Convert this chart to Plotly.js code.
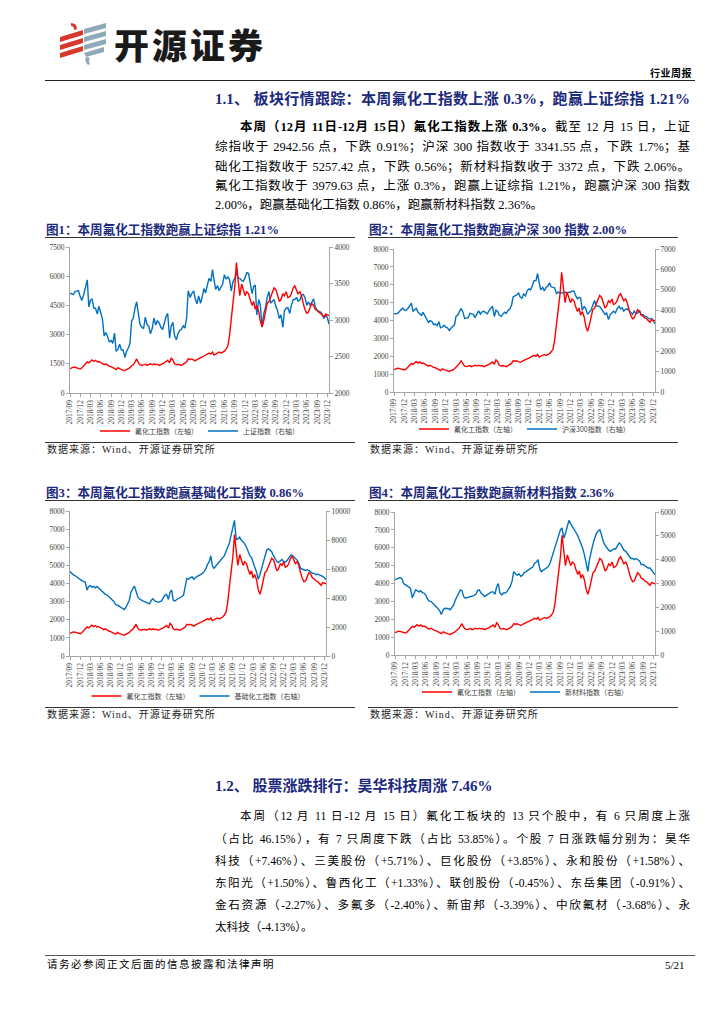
<!DOCTYPE html>
<html><head><meta charset="utf-8">
<script src="https://cdn.plot.ly/plotly-3.0.1.min.js"></script>
<style>
body{margin:0;background:#fff;}
#page{position:relative;width:724px;height:1024px;overflow:hidden;background:#fff;font-family:"Liberation Serif","Noto Sans CJK SC",serif;color:#000;}
.abs{position:absolute;white-space:nowrap;}
.hl{position:absolute;height:0;border-top:1px solid #333;}
.jl{position:absolute;text-align:justify;text-align-last:justify;font-size:12.5px;height:19px;line-height:19px;}
.jl2{position:absolute;text-align:justify;text-align-last:justify;font-size:11.6px;height:20px;line-height:20px;}
.h1{position:absolute;left:215px;width:475px;font-size:15px;font-weight:bold;color:#1C2A7D;height:20px;line-height:20px;}
.ct{position:absolute;font-size:12.6px;font-weight:bold;color:#1C2A7D;height:16px;line-height:16px;white-space:nowrap;}
.src{position:absolute;font-size:10px;letter-spacing:1px;height:14px;line-height:14px;white-space:nowrap;color:#222;}
.chart{position:absolute;width:310px;height:200px;}
</style></head>
<body><div id="page">
<svg class="abs" style="left:56px;top:20px" width="56" height="46" viewBox="0 0 56 46">
 <g fill="#D73A2C">
  <path d="M15 3 q6 0 6 6 l-3 1 q0-4-3-4z"/>
  <polygon points="4,17 27,10 27,15 4,22"/>
  <polygon points="4,25 27,18 27,23 4,30"/>
  <polygon points="4,33 27,26 27,31 4,38"/>
 </g>
 <g fill="#8FA9B8">
  <polygon points="28,9 50,3 50,8 28,14"/>
  <polygon points="28,17 50,11 50,16 28,22"/>
  <polygon points="28,25 50,19 50,24 28,30"/>
  <polygon points="28,33 48,27 48,32 30,37"/>
  <path d="M30 37 q-2 4 2 8 l2-1 q-2-3 0-6z"/>
 </g>
</svg>
<div class="abs" style="left:114px;top:22px;font-family:'Noto Sans CJK SC';font-weight:900;font-size:35px;line-height:44px;letter-spacing:3px;color:#1a1a1a;">开源证券</div>
<div class="abs" style="left:650px;top:66px;font-family:'Noto Sans CJK SC';font-weight:bold;font-size:10px;line-height:14px;letter-spacing:0.5px;">行业周报</div>
<div class="hl" style="left:45px;top:80px;width:650px;border-top:1.5px solid #222;"></div>

<div class="h1" style="top:89px;text-align:justify;text-align-last:justify;">1.1、 板块行情跟踪：本周氟化工指数上涨 0.3%，跑赢上证综指 1.21%</div>
<div class="jl" style="left:240px;width:450px;top:118px;"><b>本周（12月 11日-12月 15日）氟化工指数上涨 0.3%。</b>截至 12 月 15 日，上证</div>
<div class="jl" style="left:215px;width:475px;top:138px;">综指收于 2942.56 点，下跌 0.91%；沪深 300 指数收于 3341.55 点，下跌 1.7%；基</div>
<div class="jl" style="left:215px;width:475px;top:158px;">础化工指数收于 5257.42 点，下跌 0.56%；新材料指数收于 3372 点，下跌 2.06%。</div>
<div class="jl" style="left:215px;width:475px;top:177px;">氟化工指数收于 3979.63 点，上涨 0.3%，跑赢上证综指 1.21%，跑赢沪深 300 指数</div>
<div class="jl" style="left:215px;width:475px;top:196px;text-align-last:left;">2.00%，跑赢基础化工指数 0.86%，跑赢新材料指数 2.36%。</div>

<div class="ct" style="left:46px;top:222px;">图1：本周氟化工指数跑赢上证综指 1.21%</div>
<div class="ct" style="left:369px;top:222px;">图2：本周氟化工指数跑赢沪深 300 指数 2.00%</div>
<div class="hl" style="left:45px;top:237px;width:310px;"></div>
<div class="hl" style="left:368px;top:237px;width:310px;"></div>
<div id="c1" class="chart" style="left:45px;top:240px;"></div>
<div id="c2" class="chart" style="left:368px;top:240px;"></div>
<div class="hl" style="left:45px;top:442px;width:310px;"></div>
<div class="hl" style="left:368px;top:442px;width:310px;"></div>
<div class="src" style="left:47px;top:443px;">数据来源：Wind、开源证券研究所</div>
<div class="src" style="left:370px;top:443px;">数据来源：Wind、开源证券研究所</div>

<div class="ct" style="left:46px;top:485px;">图3：本周氟化工指数跑赢基础化工指数 0.86%</div>
<div class="ct" style="left:369px;top:485px;">图4：本周氟化工指数跑赢新材料指数 2.36%</div>
<div class="hl" style="left:45px;top:500px;width:310px;"></div>
<div class="hl" style="left:368px;top:500px;width:310px;"></div>
<div id="c3" class="chart" style="left:45px;top:503px;"></div>
<div id="c4" class="chart" style="left:368px;top:503px;"></div>
<div class="hl" style="left:45px;top:707px;width:310px;"></div>
<div class="hl" style="left:368px;top:707px;width:310px;"></div>
<div class="src" style="left:47px;top:708px;">数据来源：Wind、开源证券研究所</div>
<div class="src" style="left:370px;top:708px;">数据来源：Wind、开源证券研究所</div>

<div class="h1" style="top:776px;width:auto;">1.2、 股票涨跌排行：昊华科技周涨 7.46%</div>
<div class="jl2" style="left:240px;width:450px;top:807px;">本周（12 月 11 日-12 月 15 日）氟化工板块的 13 只个股中，有 6 只周度上涨</div>
<div class="jl2" style="left:215px;width:475px;top:830px;">（占比 46.15%），有 7 只周度下跌（占比 53.85%）。个股 7 日涨跌幅分别为：昊华</div>
<div class="jl2" style="left:215px;width:475px;top:852px;">科技（+7.46%）、三美股份（+5.71%）、巨化股份（+3.85%）、永和股份（+1.58%）、</div>
<div class="jl2" style="left:215px;width:475px;top:874px;">东阳光（+1.50%）、鲁西化工（+1.33%）、联创股份（-0.45%）、东岳集团（-0.91%）、</div>
<div class="jl2" style="left:215px;width:475px;top:896px;">金石资源（-2.27%）、多氟多（-2.40%）、新宙邦（-3.39%）、中欣氟材（-3.68%）、永</div>
<div class="jl2" style="left:215px;width:475px;top:918px;text-align-last:left;">太科技（-4.13%）。</div>

<div class="hl" style="left:45px;top:955px;width:650px;border-top:1.5px solid #555;"></div>
<div class="abs" style="left:47px;top:958px;font-size:10.5px;line-height:14px;letter-spacing:1.5px;">请务必参阅正文后面的信息披露和法律声明</div>
<div class="abs" style="left:665px;top:958px;font-size:11px;line-height:14px;">5/21</div>
</div>
<script>
const dates = [
"2017-09-01","2017-09-15","2017-10-01","2017-10-15","2017-11-01","2017-11-15","2017-12-01","2017-12-15",
"2018-01-01","2018-01-15","2018-02-01","2018-02-15","2018-03-01","2018-03-15","2018-04-01","2018-04-15","2018-05-01","2018-05-15","2018-06-01","2018-06-15","2018-07-01","2018-07-15","2018-08-01","2018-08-15","2018-09-01","2018-09-15","2018-10-01","2018-10-15","2018-11-01","2018-11-15","2018-12-01","2018-12-15",
"2019-01-01","2019-01-15","2019-02-01","2019-02-15","2019-03-01","2019-03-15","2019-04-01","2019-04-15","2019-05-01","2019-05-15","2019-06-01","2019-06-15","2019-07-01","2019-07-15","2019-08-01","2019-08-15","2019-09-01","2019-09-15","2019-10-01","2019-10-15","2019-11-01","2019-11-15","2019-12-01","2019-12-15",
"2020-01-01","2020-01-15","2020-02-01","2020-02-15","2020-03-01","2020-03-15","2020-04-01","2020-04-15","2020-05-01","2020-05-15","2020-06-01","2020-06-15","2020-07-01","2020-07-15","2020-08-01","2020-08-15","2020-09-01","2020-09-15","2020-10-01","2020-10-15","2020-11-01","2020-11-15","2020-12-01","2020-12-15",
"2021-01-01","2021-01-15","2021-02-01","2021-02-15","2021-03-01","2021-03-15","2021-04-01","2021-04-15","2021-05-01","2021-05-15","2021-06-01","2021-06-15","2021-07-01","2021-07-15","2021-08-01","2021-08-15","2021-09-01","2021-09-15","2021-10-01","2021-10-15","2021-11-01","2021-11-15","2021-12-01","2021-12-15",
"2022-01-01","2022-01-15","2022-02-01","2022-02-15","2022-03-01","2022-03-15","2022-04-01","2022-04-15","2022-05-01","2022-05-15","2022-06-01","2022-06-15","2022-07-01","2022-07-15","2022-08-01","2022-08-15","2022-09-01","2022-09-15","2022-10-01","2022-10-15","2022-11-01","2022-11-15","2022-12-01","2022-12-15",
"2023-01-01","2023-01-15","2023-02-01","2023-02-15","2023-03-01","2023-03-15","2023-04-01","2023-04-15","2023-05-01","2023-05-15","2023-06-01","2023-06-15","2023-07-01","2023-07-15","2023-08-01","2023-08-15","2023-09-01","2023-09-15","2023-10-01","2023-10-15","2023-11-01","2023-11-15","2023-12-01","2023-12-15"
];
// 氟化工指数（左轴）
const fluoro = [
1250,1300,1330,1320,1300,1280,1230,1280,
1380,1500,1600,1550,1650,1700,1620,1680,1600,1620,1560,1500,1450,1500,1420,1380,1350,1320,1250,1200,1300,1250,1200,1180,
1150,1200,1230,1300,1400,1450,1600,1750,1550,1450,1420,1450,1480,1420,1480,1500,1450,1500,1450,1480,1420,1450,1480,1550,
1620,1680,1550,1800,1700,1500,1450,1480,1450,1420,1480,1520,1600,1750,1720,1750,1700,1650,1720,1750,1800,1850,1900,1950,
1980,2050,2000,2100,1950,2000,2050,2100,2050,2100,2150,2250,2400,2900,3800,4700,5500,6700,5600,5000,5600,5300,5000,5200,
5100,4800,4500,4700,4300,4500,4200,3700,3400,3700,4200,4600,4700,4900,5100,5400,5300,5000,4700,4800,5100,5000,5200,4900,
4950,5100,5400,5500,5300,5100,5200,5000,4600,4300,4100,4150,4400,4600,4500,4300,4250,4150,4100,4000,3900,4050,4000,3980
];
// 上证指数（右轴）
const shIndex = [
3365,3353,3349,3390,3395,3402,3317,3266,
3349,3450,3550,3180,3270,3290,3160,3160,3080,3190,3075,3020,2780,2830,2770,2700,2720,2680,2820,2570,2600,2670,2590,2590,
2490,2570,2620,2680,2990,3020,3170,3250,3080,2940,2900,2880,3040,2940,2910,2810,2890,3030,2930,2990,2960,2900,2870,2970,
3050,3090,2750,2920,2970,2790,2730,2810,2860,2870,2920,2890,3030,3400,3310,3360,3400,3290,3220,3330,3230,3310,3430,3370,
3470,3570,3530,3690,3550,3420,3470,3400,3450,3490,3620,3560,3590,3560,3400,3520,3570,3660,3570,3570,3540,3530,3580,3650,
3640,3520,3360,3460,3480,3070,3280,3210,2900,3080,3180,3310,3390,3230,3260,3280,3180,3130,3020,3070,2900,3130,3160,3170,
3090,3200,3280,3280,3310,3260,3270,3340,3350,3310,3200,3250,3200,3240,3290,3180,3130,3120,3110,3080,3020,3070,3030,2942
];
// 沪深300指数（右轴）
const hs300 = [
3830,3830,3840,3920,4000,4110,4010,3990,
4090,4230,4350,3960,4020,4090,3900,3850,3750,3900,3700,3620,3400,3490,3450,3300,3330,3240,3440,3140,3180,3270,3170,3140,
3010,3120,3200,3290,3720,3750,3950,4090,3910,3600,3630,3630,3850,3810,3800,3640,3800,3970,3810,3920,3950,3900,3830,3970,
4100,4200,3690,4000,3940,3770,3700,3800,3910,3850,4000,4050,4250,4650,4700,4750,4850,4650,4590,4800,4700,4950,5050,5000,
5210,5450,5450,5800,5360,5000,5120,4950,5120,5180,5340,5150,5120,5100,4800,4900,4830,4860,4870,4880,4850,4890,4880,4950,
4940,4730,4560,4630,4600,4000,4200,4080,3800,3900,4020,4250,4480,4220,4200,4190,4060,3940,3800,3870,3550,3780,3850,3950,
3870,4070,4200,4070,4120,3960,4050,4060,3990,3910,3800,3960,3840,3860,4000,3780,3780,3710,3690,3610,3570,3600,3480,3342
];
// 基础化工指数（右轴）
const basicChem = [
5820,5700,5600,5550,5450,5350,5250,5200,
5150,5100,4550,4800,4850,4750,4800,4700,4800,4700,4550,4450,4300,4250,4200,4100,4000,3900,3750,3550,3500,3450,3350,3300,
3200,3350,3600,3850,4400,4600,4830,4500,4100,3950,3850,3800,3750,3700,3650,3600,3850,3950,3800,3750,3700,3750,3800,4000,
4200,4250,3900,4400,4550,3850,3800,3900,3950,4000,4100,4200,4700,5350,5300,5400,5450,5300,5400,5500,5550,5600,5700,5800,
6000,6300,6500,6900,6200,6050,6200,6300,6500,6600,6700,6900,7200,7500,7800,8300,8800,9350,8000,8100,8200,8000,7900,7750,
7500,7200,6900,6800,6400,6150,5800,5300,5600,6000,6500,6900,7300,7400,7300,7200,6900,6700,6500,6450,6600,6650,6500,6450,
6600,6800,6950,6950,6850,6700,6600,6400,6050,6000,5950,5900,5950,5900,5800,5700,5700,5600,5650,5600,5550,5500,5400,5257
];
// 新材料指数（右轴）
const newMat = [
3160,3200,3230,3250,3200,3000,2950,2900,
2850,2800,2400,2550,2730,2700,2650,2700,2620,2600,2500,2350,2250,2250,2170,2100,2050,1950,1850,1700,1900,1960,1950,1950,
1900,1980,2100,2300,2450,2600,2730,2700,2450,2380,2400,2420,2450,2480,2500,2550,2700,2730,2600,2550,2450,2500,2550,2600,
2650,2650,2550,2850,3000,2600,2520,2600,2600,2650,2750,2880,3100,3500,3400,3350,3400,3300,3350,3450,3500,3550,3600,3650,
3700,3850,3900,4000,3650,3500,3550,3600,3650,3700,3850,4070,4300,4550,4800,5000,5250,5330,4900,5100,5400,5650,5500,5400,
5300,5150,5000,4850,4700,4500,4200,3900,3500,4000,4400,4650,4900,5100,5200,5260,5000,4750,4600,4500,4400,4350,4400,4450,
4450,4550,4700,4650,4500,4400,4350,4250,4100,4050,4050,4000,4050,4000,3950,3800,3800,3750,3700,3650,3650,3550,3450,3372
];
const fluoroName = "氟化工指数（左轴）";

const axisCol = "#A6A6A6";
const tickFont = {family:"Liberation Serif, Noto Sans CJK SC", size:7.5, color:"#404040"};

function draw(id, rightVals, rightName, leftRange, leftDtick, rightRange, rightDtick, m, legY){
  const traces = [
    {x:dates, y:fluoro, name:fluoroName, type:"scatter", mode:"lines", yaxis:"y2",
     line:{color:"#FF0000", width:1.4}},
    {x:dates, y:rightVals, name:rightName, type:"scatter", mode:"lines", yaxis:"y",
     line:{color:"#0070C0", width:1.4}}
  ];
  const yBase = {showgrid:false, zeroline:false, showline:true, linecolor:axisCol, linewidth:1,
     ticks:"outside", ticklen:3, tickcolor:axisCol, tickfont:tickFont, tickformat:"d",
     fixedrange:true, automargin:false};
  const layout = {
    width:310, height:200, margin:m, paper_bgcolor:"rgba(0,0,0,0)", plot_bgcolor:"rgba(0,0,0,0)",
    showlegend:true,
    legend:{orientation:"h", x:0.5, xanchor:"center", xref:"paper", y:legY, yref:"container", yanchor:"middle",
      font:{family:"Noto Sans CJK SC", size:7, color:"#404040"}, bgcolor:"rgba(0,0,0,0)", itemwidth:30},
    xaxis:{type:"date", range:["2017-09-01","2023-12-15"], tick0:"2017-09-01", dtick:"M3", tickformat:"%Y/%m",
      tickangle:-90, showgrid:false, zeroline:false, showline:true, linecolor:axisCol, ticks:"outside",
      ticklen:3, tickcolor:axisCol, tickfont:tickFont, automargin:false},
    yaxis:Object.assign({side:"right", range:rightRange, dtick:rightDtick, tick0:0}, yBase),
    yaxis2:Object.assign({side:"left", overlaying:"y", range:leftRange, dtick:leftDtick, tick0:0}, yBase)
  };
  Plotly.newPlot(id, traces, layout, {staticPlot:true, displayModeBar:false});
}

draw("c1", shIndex, "上证指数（右轴）", [0,7500], 1500, [2000,4000], 500, {l:25,r:26,t:7,b:47}, 0.045);
draw("c2", hs300, "沪深300指数（右轴）", [0,8000], 1000, [0,7000], 1000, {l:26,r:23,t:9,b:48}, 0.055);
draw("c3", basicChem, "基础化工指数（右轴）", [0,8000], 1000, [0,10000], 2000, {l:25,r:29,t:8,b:47}, 0.035);
draw("c4", newMat, "新材料指数（右轴）", [0,8000], 1000, [0,6000], 1000, {l:27,r:23,t:9,b:48}, 0.055);
</script>
</body></html>
